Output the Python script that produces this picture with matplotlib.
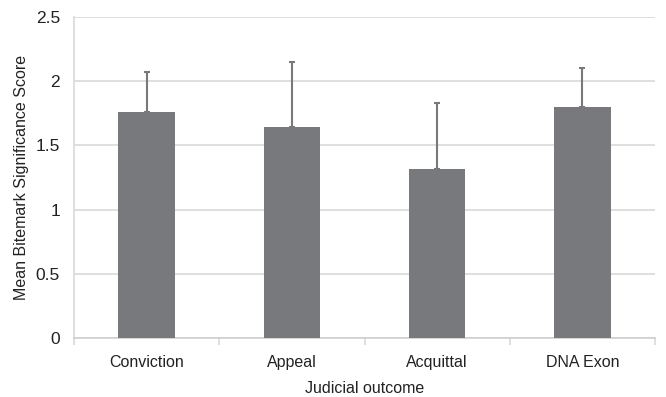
import matplotlib.pyplot as plt

plt.rcParams['font.family'] = ['Liberation Sans', 'DejaVu Sans']

outcomes = ["Conviction", "Appeal", "Acquittal", "DNA Exon"]
mean_scores = [1.76, 1.645, 1.32, 1.80]
upper_sd = [0.31, 0.505, 0.51, 0.30]

bar_color = "#78797d"
grid_color = "#d9d9d9"

fig = plt.figure(figsize=(6.66, 3.97), dpi=100)
ax = fig.add_axes([74 / 666, 1 - 338 / 397, 581 / 666, 321 / 397])

x = range(len(outcomes))
ax.bar(x, mean_scores, width=0.39, color=bar_color, zorder=3,
       yerr=[[0] * len(upper_sd), upper_sd],
       error_kw=dict(ecolor=bar_color, elinewidth=1.5, capsize=2, capthick=1.5))

ax.set_xlim(-0.5, len(outcomes) - 0.5)
ax.set_ylim(0, 2.5)
ax.set_yticks([0, 0.5, 1, 1.5, 2, 2.5])
ax.set_yticklabels(["0", "0.5", "1", "1.5", "2", "2.5"])
ax.set_xticks(list(x))
ax.set_xticklabels(outcomes)
ax.set_xticks([i + 0.5 for i in range(-1, len(outcomes))], minor=True)

ax.yaxis.grid(True, color=grid_color, linewidth=1.2, zorder=0)
ax.tick_params(axis='x', which='major', length=0, pad=12, labelsize=11.5, colors="#222222")
ax.tick_params(axis='x', which='minor', length=5, color=grid_color, width=1.2)
ax.tick_params(axis='y', length=0, pad=10, labelsize=12.5, colors="#222222")

for side in ["top", "right"]:
    ax.spines[side].set_visible(False)
ax.spines["left"].set_color(grid_color)
ax.spines["left"].set_linewidth(1.2)
ax.spines["bottom"].set_color("#cfcfcf")
ax.spines["bottom"].set_linewidth(1.2)

ax.set_xlabel("Judicial outcome", fontsize=11.5, labelpad=8, color="#222222")
ax.set_ylabel("Mean Bitemark Significance Score", fontsize=11.5, labelpad=5, color="#222222")

fig.savefig("out.png", dpi=100)
